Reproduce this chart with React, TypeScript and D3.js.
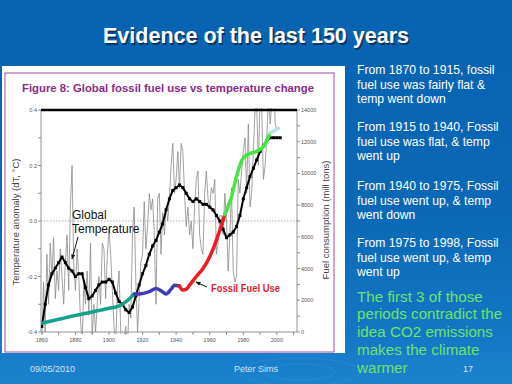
import React from "react";
import * as d3 from "d3";

// annual temperature anomaly (thin grey), one value per year from 1860
const annualStart = 1860;
const annualTemp = [
  -0.45, -0.22, -0.4, -0.12, -0.3, -0.08, -0.2, -0.06, -0.28, -0.18,
  -0.25, -0.1, -0.2, -0.3, -0.15, -0.05, -0.25, 0.05, 0.2, -0.15,
  -0.25, -0.1, -0.2, -0.35, -0.45, -0.22, -0.3, -0.18, -0.34, -0.08,
  -0.42, -0.3, -0.4, -0.3, -0.2, -0.3, -0.08, -0.1, -0.28, -0.12,
  -0.03, -0.12, -0.25, -0.38, -0.45, -0.25, -0.18, -0.4, -0.45, -0.42,
  -0.38, -0.46, -0.3, -0.35, -0.05, 0.05, -0.22, -0.4, -0.28, -0.15,
  -0.12, 0.07, -0.1, -0.02, 0.1, 0.04, 0.08, -0.05, -0.3, 0.08,
  0.1, -0.12, 0.03, -0.05, 0.05, 0.0, 0.08, 0.2, 0.28, 0.1,
  0.15, 0.25, 0.12, 0.28, 0.25, 0.1, -0.02, 0.05, -0.05, 0.0,
  -0.1, 0.05, 0.15, 0.18, -0.05, -0.1, -0.12, 0.1, 0.18, 0.08,
  0.05, 0.12, 0.1, 0.15, -0.12, -0.08, 0.02, 0.02, -0.05, 0.1,
  0.0, -0.18, -0.05, 0.12, -0.18, -0.22, -0.2, 0.15, 0.1, 0.18,
  0.25, 0.3, 0.1, 0.35, 0.05, 0.1, 0.25, 0.4, 0.42, 0.2,
  0.45, 0.4, 0.15, 0.2, 0.3, 0.45, 0.35, 0.42, 0.55, 0.35,
  0.33,
];

// smoothed temperature (black line with squares)
const smoothYears = [
  1860, 1862, 1864, 1866, 1868, 1870, 1872, 1874, 1876, 1878, 1880, 1882, 1884,
  1886, 1888, 1890, 1892, 1894, 1896, 1898, 1900, 1902, 1904, 1906, 1908, 1910,
  1912, 1914, 1916, 1918, 1920, 1922, 1924, 1926, 1928, 1930, 1932, 1934, 1936,
  1938, 1940, 1942, 1944, 1946, 1948, 1950, 1952, 1954, 1956, 1958, 1960, 1962,
  1964, 1966, 1968, 1970, 1972, 1974, 1976, 1978, 1980, 1982, 1984, 1986, 1988,
  1990, 1992, 1994, 1996, 1998, 2000, 2002,
];
const smoothTemp = [
  -0.38, -0.3, -0.23, -0.19, -0.17, -0.15, -0.13, -0.15, -0.17, -0.18, -0.2,
  -0.19, -0.19, -0.24, -0.28, -0.27, -0.25, -0.23, -0.22, -0.22, -0.21, -0.22,
  -0.26, -0.29, -0.3, -0.32, -0.33, -0.31, -0.27, -0.23, -0.19, -0.16, -0.12,
  -0.09, -0.07, -0.04, -0.01, 0.04, 0.08, 0.11, 0.12, 0.13, 0.12, 0.1, 0.08,
  0.07, 0.08, 0.07, 0.06, 0.06, 0.05, 0.04, 0.02, 0.0, -0.03, -0.06, -0.05,
  -0.04, -0.02, 0.02, 0.08, 0.12, 0.16, 0.19, 0.22, 0.25, 0.27, 0.29, 0.3,
  0.3, 0.3, 0.3,
];

// fossil fuel consumption (mill tons)
const fuelYears = [
  1860, 1865, 1870, 1875, 1880, 1885, 1890, 1895, 1900, 1905, 1910, 1915,
  1918, 1921, 1925, 1928, 1931, 1934, 1937, 1939, 1942, 1944, 1946, 1948,
  1952, 1956, 1960, 1963, 1965, 1969, 1973, 1976, 1979, 1982, 1988, 1992,
  1995, 1996, 2001,
];
const fuelTons = [
  550, 680, 800, 920, 1050, 1150, 1260, 1380, 1500, 1600, 1900, 2400,
  2400, 2450, 2600, 2750, 2600, 2400, 2700, 2950, 2900, 2650, 2700, 2950,
  3500, 4000, 4750, 5500, 6100, 7400, 8550, 9800, 10800, 11150, 11400, 11700,
  12300, 12550, 12850,
];
const periodBreaks = [1860, 1915, 1942, 1969, 1996, 2001];
const periodColors = ["#17a08c", "#3e3eb0", "#ee1c22", "#44e640", "#b8e2ee"];

const xTicks = [1860, 1880, 1900, 1920, 1940, 1960, 1980, 2000];
const tempTicks = [-0.4, -0.2, 0.0, 0.2, 0.4];
const fuelTicks = [0, 2000, 4000, 6000, 8000, 10000, 12000, 14000];

const notes = [
  ["From 1870 to 1915, fossil", "fuel use was fairly flat &", "temp went down"],
  ["From 1915 to 1940, Fossil", "fuel use was flat, & temp", "went up"],
  ["From 1940 to 1975, Fossil", "fuel use went up, & temp", "went down"],
  ["From 1975 to 1998, Fossil", "fuel use went up, & temp", "went up"],
];
const conclusion = [
  "The first 3 of those",
  "periods contradict the",
  "idea CO2 emissions",
  "makes the climate",
  "warmer",
];

const F = "'Liberation Sans', Arial, sans-serif";

const App = () => {
  const x = d3.scaleLinear().domain([1859.5, 2012]).range([41, 297]);
  const yT = d3.scaleLinear().domain([-0.4, 0.4]).range([332, 110]);
  const yF = d3.scaleLinear().domain([0, 14000]).range([332, 110]);

  const annual = annualTemp.map((v, i) => ({ yr: annualStart + i, v }));
  const smooth = smoothYears.map((yr, i) => ({ yr, v: smoothTemp[i] }));
  const fuel = fuelYears.map((yr, i) => ({ yr, v: fuelTons[i] }));

  const tLine = d3
    .line<{ yr: number; v: number }>()
    .x((d) => x(d.yr))
    .y((d) => yT(d.v));
  const fLine = d3
    .line<{ yr: number; v: number }>()
    .x((d) => x(d.yr))
    .y((d) => yF(d.v))
    .curve(d3.curveMonotoneX);

  const segments = periodColors.map((c, i) => ({
    color: c,
    pts: fuel.filter((d) => d.yr >= periodBreaks[i] && d.yr <= periodBreaks[i + 1]),
  }));

  const minorT = d3.range(-0.4, 0.41, 0.1);
  const minorX = d3.range(1860, 2011, 10);
  const minorF = d3.range(0, 14001, 1000);

  return (
    <svg
      width={512}
      height={384}
      style={{ position: "fixed", left: 0, top: 0 }}
      fontFamily={F}
    >
      <defs>
        <linearGradient id="bg" x1="0" y1="0" x2="0" y2="1">
          <stop offset="0" stopColor="#0763b2" />
          <stop offset="0.55" stopColor="#0a68b6" />
          <stop offset="0.9" stopColor="#1479c6" />
          <stop offset="1" stopColor="#1c84d0" />
        </linearGradient>
        <clipPath id="plotclip">
          <rect x={41} y={108} width={256} height={226} />
        </clipPath>
        <marker id="arr" viewBox="0 0 10 10" refX="9" refY="5" markerWidth="5" markerHeight="5" orient="auto">
          <path d="M0,1 L10,5 L0,9 z" fill="#111" />
        </marker>
      </defs>
      <rect width={512} height={384} fill="url(#bg)" />
      <rect x={0} y={353} width={512} height={31} fill="#1a80cc" opacity={0.5} />
      <ellipse cx={300} cy={372} rx={60} ry={14} fill="none" stroke="#2d8fd8" strokeWidth={1} opacity={0.6} />
      <ellipse cx={300} cy={372} rx={35} ry={8} fill="none" stroke="#2d8fd8" strokeWidth={1} opacity={0.6} />

      {/* slide title */}
      <text x={257.5} y={44.5} textAnchor="middle" fontSize={21.5} fontWeight="bold" fill="#0b2a4a" opacity={0.8}>
        Evidence of the last 150 years
      </text>
      <text x={256} y={43} textAnchor="middle" fontSize={21.5} fontWeight="bold" fill="#ffffff">
        Evidence of the last 150 years
      </text>

      {/* figure panel */}
      <rect x={2} y={66} width={343} height={287} fill="#ffffff" />
      <rect x={5} y={73} width={329} height={279} fill="none" stroke="#a04aa0" strokeWidth={1} />
      <text x={22} y={92} fontSize={11} fontWeight="bold" fill="#8a2a8a" textLength={292} lengthAdjust="spacingAndGlyphs">
        Figure 8: Global fossil fuel use vs temperature change
      </text>

      {/* axes */}
      <line x1={41} x2={41} y1={110} y2={332} stroke="#777" strokeWidth={0.8} />
      <line x1={297} x2={297} y1={110} y2={332} stroke="#777" strokeWidth={0.8} />
      <line x1={41} x2={297} y1={332} y2={332} stroke="#777" strokeWidth={0.8} />
      <line x1={41} x2={297} y1={yT(0)} y2={yT(0)} stroke="#888" strokeWidth={0.7} strokeDasharray="1.5 1.5" />
      {minorT.map((t) => (
        <line key={"mt" + t} x1={38} x2={41} y1={yT(t)} y2={yT(t)} stroke="#777" strokeWidth={0.8} />
      ))}
      {tempTicks.map((t) => (
        <text key={"tt" + t} x={37} y={yT(t) + 2} textAnchor="end" fontSize={5.5} fill="#555">
          {t.toFixed(1)}
        </text>
      ))}
      {minorX.map((yr) => (
        <line key={"mx" + yr} x1={x(yr)} x2={x(yr)} y1={332} y2={335} stroke="#777" strokeWidth={0.8} />
      ))}
      {xTicks.map((yr) => (
        <text key={"xt" + yr} x={x(yr)} y={342} textAnchor="middle" fontSize={5.5} fill="#555">
          {yr}
        </text>
      ))}
      {minorF.map((f) => (
        <line key={"mf" + f} x1={297} x2={300} y1={yF(f)} y2={yF(f)} stroke="#777" strokeWidth={0.8} />
      ))}
      {fuelTicks.map((f) => (
        <text key={"ft" + f} x={301} y={yF(f) + 2} fontSize={5.5} fill="#555">
          {f}
        </text>
      ))}
      <text transform="translate(19,222) rotate(-90)" textAnchor="middle" fontSize={9.5} fill="#444">
        Temperature anomaly (dT, °C)
      </text>
      <text transform="translate(329,220) rotate(-90)" textAnchor="middle" fontSize={9.5} fill="#444">
        Fuel consumption (mill tons)
      </text>

      {/* data */}
      <g clipPath="url(#plotclip)">
        <path d={tLine(annual) || ""} fill="none" stroke="#8a8a8a" strokeWidth={0.8} />
        <path d={tLine(smooth) || ""} fill="none" stroke="#000" strokeWidth={2} />
        {smooth.map((d) => (
          <rect key={"s" + d.yr} x={x(d.yr) - 1.5} y={yT(d.v) - 1.5} width={3} height={3} fill="#000" />
        ))}
        {segments.map((s, i) => (
          <path key={"seg" + i} d={fLine(s.pts) || ""} fill="none" stroke={s.color} strokeWidth={3.5} strokeLinecap="round" />
        ))}
      </g>
      <line x1={41} x2={297} y1={110} y2={110} stroke="#000" strokeWidth={2.5} />

      {/* annotations */}
      <text x={72} y={219} fontSize={12} fill="#111">Global</text>
      <text x={72} y={233} fontSize={12} fill="#111">Temperature</text>
      <line x1={78} y1={237} x2={72} y2={259} stroke="#111" strokeWidth={1} markerEnd="url(#arr)" />
      <text x={211} y={292} fontSize={10.5} fontWeight="bold" fill="#e4202a" textLength={69} lengthAdjust="spacingAndGlyphs">
        Fossil Fuel Use
      </text>
      <line x1={207} y1={287} x2={196} y2={282} stroke="#111" strokeWidth={1} markerEnd="url(#arr)" />

      {/* notes on the right */}
      {notes.map((para, i) =>
        para.map((ln, j) => (
          <text key={"n" + i + j} x={357} y={[74, 131, 190, 247][i] + j * 14.7} fontSize={12.2} fill="#ffffff">
            {ln}
          </text>
        ))
      )}
      {conclusion.map((ln, j) => (
        <text key={"c" + j} x={357} y={301.5 + j * 17.8} fontSize={15.2} fill="#6ee26a">
          {ln}
        </text>
      ))}

      {/* footer */}
      <text x={30} y={372} fontSize={9} fill="#d6e2ee">09/05/2010</text>
      <text x={256} y={372} textAnchor="middle" fontSize={9} fill="#d6e2ee">Peter Sims</text>
      <text x={468} y={372} textAnchor="middle" fontSize={9} fill="#d6e2ee">17</text>
    </svg>
  );
};

export default App;
